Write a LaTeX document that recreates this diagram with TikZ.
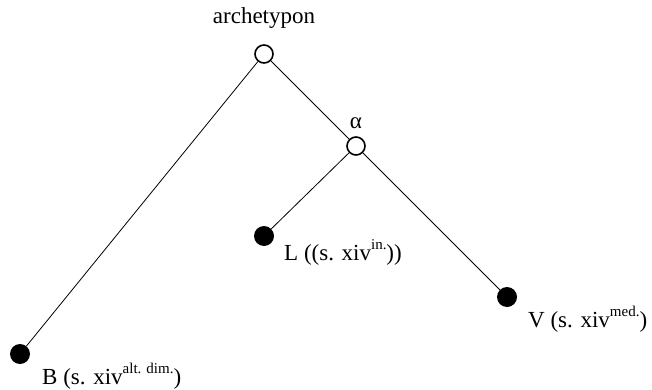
\documentclass[tikz,border=0pt]{standalone}
\usepackage{fontspec}
\setmainfont{Liberation Serif}
\begin{document}
\begin{tikzpicture}[x=1pt,y=-1pt,
  open/.style={circle,draw,line width=1.6pt,fill=white,minimum size=18pt,inner sep=0pt},
  full/.style={circle,fill=black,minimum size=20pt,inner sep=0pt},
  lbl/.style={font=\fontsize{23}{27}\selectfont,inner sep=0pt},
  edge/.style={line width=0.8pt}]
\useasboundingbox (0,0) rectangle (652,390);
\node[open] (arch) at (264,54) {};
\node[open] (alpha) at (356,146) {};
\node[full] (L) at (264,236) {};
\node[full] (V) at (507,297) {};
\node[full] (B) at (20,354) {};
\draw[edge] (arch) -- (B);
\draw[edge] (arch) -- (alpha);
\draw[edge] (alpha) -- (L);
\draw[edge] (alpha) -- (V);
\newcommand\supx[1]{\raisebox{0.45em}{\fontsize{15}{17}\selectfont #1}}
\node[lbl,anchor=base] (archl) at (264,24) {archetypon};
\node[lbl,anchor=base] (alphal) at (356,129) {α};
\node[lbl,anchor=base west] (Ll) at (284,260) {L ((s. xiv\supx{in.}))};
\node[lbl,anchor=base west] (Vl) at (528,327) {V (s. xiv\supx{med.})};
\node[lbl,anchor=base west] (Bl) at (42,384) {B (s. xiv\supx{alt. dim.})};
\end{tikzpicture}
\end{document}
